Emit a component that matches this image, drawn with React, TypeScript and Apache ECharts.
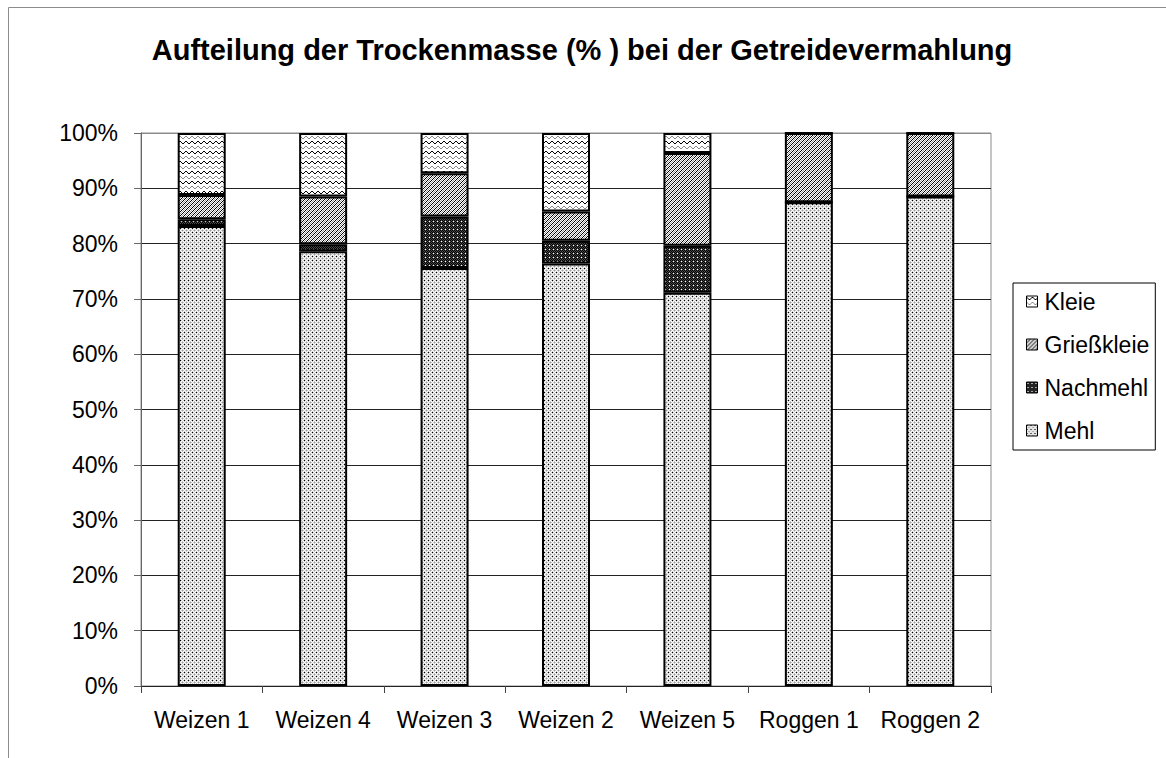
import React, { useEffect, useRef } from "react";
import * as echarts from "echarts";

const categories = ["Weizen 1", "Weizen 4", "Weizen 3", "Weizen 2", "Weizen 5", "Roggen 1", "Roggen 2"];
const mehl = [83.2, 78.6, 75.6, 76.4, 71.1, 87.5, 88.5];
const nachmehl = [1.2, 1.3, 9.3, 4.1, 8.5, 0, 0];
const griesskleie = [4.4, 8.6, 7.8, 5.3, 16.8, 12.5, 11.5];
const kleie = [11.2, 11.5, 7.3, 14.2, 3.6, 0, 0];
const legendOrder = ["Kleie", "Grießkleie", "Nachmehl", "Mehl"];
const titleText = "Aufteilung der Trockenmasse (% ) bei der Getreidevermahlung";

const FONT = "'Liberation Sans', Arial, sans-serif";

function makePattern(w: number, h: number, draw: (px: (x: number, y: number, c: string) => void) => void, bg: string) {
  const c = document.createElement("canvas");
  c.width = w;
  c.height = h;
  const ctx = c.getContext("2d")!;
  ctx.fillStyle = bg;
  ctx.fillRect(0, 0, w, h);
  const px = (x: number, y: number, col: string) => {
    ctx.fillStyle = col;
    ctx.fillRect(((x % w) + w) % w, ((y % h) + h) % h, 1, 1);
  };
  draw(px);
  return { image: c, repeat: "repeat", imageWidth: w, imageHeight: h } as any;
}

function mehlPattern() {
  return makePattern(4, 4, (px) => {
    for (let y = 0; y < 4; y++)
      for (let x = 0; x < 4; x++) if ((x + y) % 2 === 1) px(x, y, "#c8c8c8");
    px(0, 0, "#000");
    px(2, 2, "#9a9a9a");
  }, "#ffffff");
}

function nachmehlPattern() {
  return makePattern(4, 4, (px) => {
    for (let y = 0; y < 4; y++)
      for (let x = 0; x < 4; x++) if ((x + y) % 2 === 1) px(x, y, "#4a4a4a");
    px(1, 1, "#ffffff");
  }, "#000000");
}

function griessPattern() {
  return makePattern(4, 4, (px) => {
    for (let y = 0; y < 4; y++)
      for (let x = 0; x < 4; x++) {
        const s = (x + y) % 4;
        if (s === 3) px(x, y, "#000");
        else if (s === 1) px(x, y, "#9a9a9a");
      }
  }, "#ffffff");
}

function kleiePattern() {
  const off = [0, 1, 2, 2, 1, 0];
  return makePattern(6, 10, (px) => {
    for (let x = 0; x < 6; x++) {
      px(x, 1 + off[x], "#000");
      px(x, 6 + off[x], "#8a8a8a");
    }
  }, "#ffffff");
}

export default function App() {
  const ref = useRef<HTMLDivElement>(null);
  useEffect(() => {
    const chart = echarts.init(ref.current!, null, { renderer: "svg" });
    const barStyle = (fill: any) => ({ color: fill, borderColor: "#000", borderWidth: 2 });
    const gridColors = ["#222", "#222", "#222", "#222", "#222", "#222", "#222", "#222", "#222", "#222", "#8c8c8c"];
    chart.setOption({
      animation: false,
      backgroundColor: "#fff",
      title: {
        text: titleText,
        left: 577,
        textAlign: "center",
        top: 30,
        textStyle: { fontFamily: FONT, fontSize: 29, fontWeight: "bold", color: "#000" },
      },
      graphic: [
        {
          type: "rect",
          shape: { x: 8.5, y: 7.5, width: 1300, height: 900 },
          style: { fill: "none", stroke: "#8c8c8c", lineWidth: 1 },
          silent: true,
        },
      ],
      legend: {
        orient: "vertical",
        left: 1013,
        top: 283,
        width: 144,
        padding: [7, 6, 8, 13],
        itemGap: 20,
        itemWidth: 11,
        itemHeight: 11,
        icon: "rect",
        borderColor: "#000",
        borderWidth: 1,
        data: legendOrder,
        itemStyle: { borderWidth: 1, borderColor: "#000" },
        textStyle: { fontFamily: FONT, fontSize: 23, color: "#000", lineHeight: 20, padding: [0, 0, 0, 2] },
      },
      grid: {
        left: 141,
        top: 133,
        width: 850,
        height: 553,
        show: true,
        borderColor: "#8c8c8c",
        borderWidth: 1,
        backgroundColor: "transparent",
      },
      xAxis: {
        type: "category",
        data: categories,
        axisLine: { lineStyle: { color: "#222", width: 1 } },
        axisTick: { show: true, length: 7, lineStyle: { color: "#444" }, alignWithLabel: false },
        axisLabel: { fontFamily: FONT, fontSize: 23, color: "#000", margin: 22, interval: 0 },
      },
      yAxis: {
        type: "value",
        min: 0,
        max: 100,
        interval: 10,
        axisLine: { show: true, lineStyle: { color: "#666", width: 1 } },
        axisTick: { show: true, length: 7, lineStyle: { color: "#666" } },
        axisLabel: { fontFamily: FONT, fontSize: 23, color: "#000", margin: 23, formatter: "{value}%" },
        splitLine: { show: true, lineStyle: { color: gridColors, width: 1 } },
      },
      series: [
        { name: "Mehl", type: "bar", stack: "t", barWidth: 48, data: mehl, itemStyle: barStyle(mehlPattern()) },
        { name: "Nachmehl", type: "bar", stack: "t", barWidth: 48, data: nachmehl, itemStyle: barStyle(nachmehlPattern()) },
        { name: "Grießkleie", type: "bar", stack: "t", barWidth: 48, data: griesskleie, itemStyle: barStyle(griessPattern()) },
        { name: "Kleie", type: "bar", stack: "t", barWidth: 48, data: kleie, itemStyle: barStyle(kleiePattern()) },
      ],
    });
    return () => chart.dispose();
  }, []);
  return (
    <div
      ref={ref}
      style={{ position: "absolute", left: 0, top: 0, width: 1166, height: 758, background: "#fff" }}
    />
  );
}
